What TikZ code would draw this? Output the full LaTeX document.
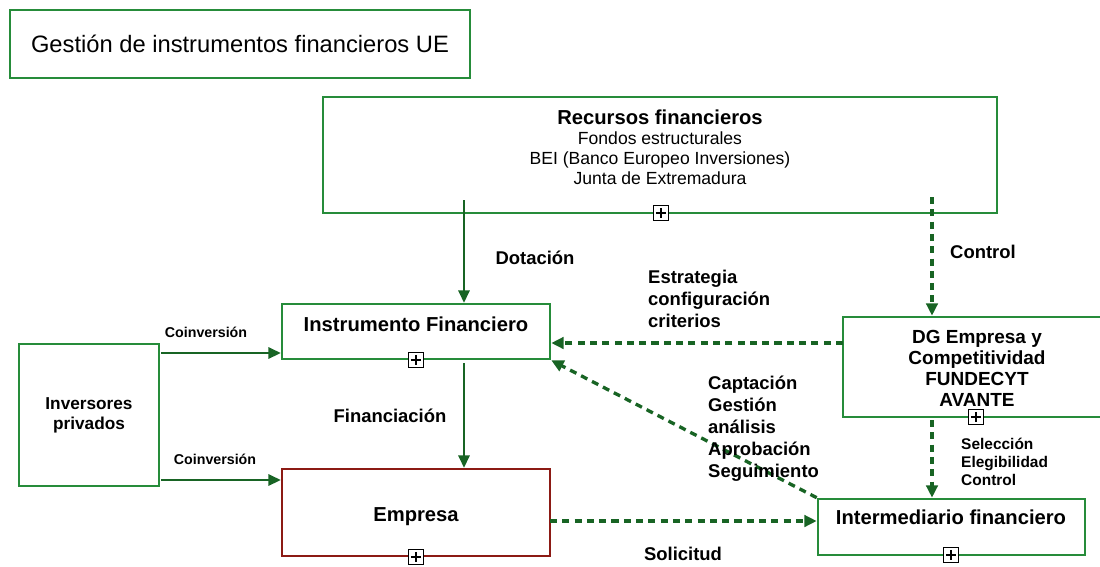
\documentclass[tikz,border=0pt]{standalone}
\usepackage{fontspec}
\setmainfont{Liberation Sans}
\usetikzlibrary{arrows.meta,shadows}
\definecolor{boxgreen}{RGB}{38,140,58}
\definecolor{arrowgreen}{RGB}{24,100,36}
\definecolor{boxred}{RGB}{140,26,20}

\begin{document}
\begin{tikzpicture}[x=0.02cm,y=-0.02cm,
        panel/.style={draw=boxgreen,line width=1.5pt,fill=white,inner sep=0pt,
            drop shadow={shadow xshift=0.8pt,shadow yshift=-0.8pt,opacity=0.3}},
        plusbox/.style={draw=black,fill=white,line width=0.6pt,minimum size=0.3cm,
            inner sep=0pt,path picture={
                \draw[line width=0.6pt] ([xshift=1.3pt]path picture bounding box.west)
                    -- ([xshift=-1.3pt]path picture bounding box.east);
                \draw[line width=0.6pt] ([yshift=-1.3pt]path picture bounding box.north)
                    -- ([yshift=1.3pt]path picture bounding box.south);}},
        flow/.style={draw=arrowgreen,line width=1.1pt,-{Triangle[length=7pt,width=6.5pt]}},
        dflow/.style={flow,line width=1.9pt,dash pattern=on 4pt off 3pt},
        boxtext/.style={font=\bfseries\fontsize{11.5}{13.5}\selectfont,align=center},
        lbl/.style={font=\bfseries\fontsize{10.5}{12.5}\selectfont,align=left},
        smalllbl/.style={font=\bfseries\fontsize{8.1}{10}\selectfont,align=left}]
    \useasboundingbox (0,0) rectangle (1100,566);

    % boxes
    \node[panel,minimum width=9.2cm,minimum height=1.36cm,
        font=\fontsize{13.5}{16}\selectfont] (titulo) at (240,44)
        {Gestión de instrumentos financieros UE};
    \node[panel,minimum width=13.48cm,minimum height=2.32cm] (recursos) at (660,155) {};
    \node[align=center,font=\fontsize{10}{11.3}\selectfont] (recursostxt) at (660,147)
        {{\bfseries\fontsize{11.5}{11.3}\selectfont Recursos financieros}\\
         Fondos estructurales\\BEI (Banco Europeo Inversiones)\\Junta de Extremadura};
    \node[panel,minimum width=5.36cm,minimum height=1.1cm] (instr) at (416,331.5) {};
    \node[boxtext] (instrtxt) at (416,324) {Instrumento Financiero};
    \node[panel,minimum width=2.8cm,minimum height=2.84cm,align=center,
        font=\bfseries\fontsize{9.8}{11.3}\selectfont] (inversores) at (89,415)
        {Inversores\\privados};
    \node[panel,draw=boxred,minimum width=5.36cm,minimum height=1.74cm] (empresa) at (416,512.5) {};
    \node[boxtext] (empresatxt) at (416,517) {Empresa};
    \node[panel,minimum width=5.24cm,minimum height=2cm] (dg) at (974,367) {};
    \node[boxtext,font=\bfseries\fontsize{10.8}{12}\selectfont] (dgtxt) at (977,368)
        {DG Empresa y\\Competitividad\\FUNDECYT\\AVANTE};
    \node[panel,minimum width=5.34cm,minimum height=1.12cm] (interm) at (951.5,527) {};
    \node[boxtext] (intermtxt) at (951,517) {Intermediario financiero};

    % connectors
    \coordinate (dotA) at (464,200);
    \draw[flow] (dotA) -- (dotA |- instr.north);
    \coordinate (ctrlA) at (932,197);
    \draw[dflow] (ctrlA) -- (ctrlA |- dg.north);
    \coordinate (estrA) at (843,343);
    \draw[dflow] (estrA) -- (estrA -| instr.east);
    \draw[dflow] (interm.north west) -- (instr.south east);
    \coordinate (finA) at (464,363);
    \draw[flow] (finA) -- (finA |- empresa.north);
    \coordinate (coinA) at (161,353);
    \draw[flow] (coinA) -- (coinA -| instr.west);
    \coordinate (coinB) at (161,480);
    \draw[flow] (coinB) -- (coinB -| empresa.west);
    \coordinate (solA) at (550,521);
    \draw[dflow] (solA) -- (solA -| interm.west);
    \coordinate (selA) at (932,420);
    \draw[dflow] (selA) -- (selA |- interm.north);

    \foreach \n/\x/\y in {recursos/661/213, instr/416/360, empresa/416/557,
            dg/976/417, interm/951/555}
        \node[plusbox] (\n plus) at (\x,\y) {};

    % labels
    \node[lbl] (dotacion) at (535,258) {Dotación};
    \node[lbl] (control) at (983,252) {Control};
    \node[lbl,anchor=west] (estrategia) at (642,299) {Estrategia\\configuración\\criterios};
    \node[lbl,anchor=west] (captacion) at (702,429)
        {Captación\\Gestión\\análisis\\Aprobación\\Seguimiento};
    \node[lbl] (financiacion) at (390,416) {Financiación};
    \node[lbl] (solicitud) at (683,554) {Solicitud};
    \node[smalllbl] (coinvA) at (206,332) {Coinversión};
    \node[smalllbl] (coinvB) at (215,459) {Coinversión};
    \node[smalllbl,font=\bfseries\fontsize{8.8}{10.2}\selectfont,anchor=west] (seleccion)
        at (955,462) {Selección\\Elegibilidad\\Control};
\end{tikzpicture}
\end{document}
